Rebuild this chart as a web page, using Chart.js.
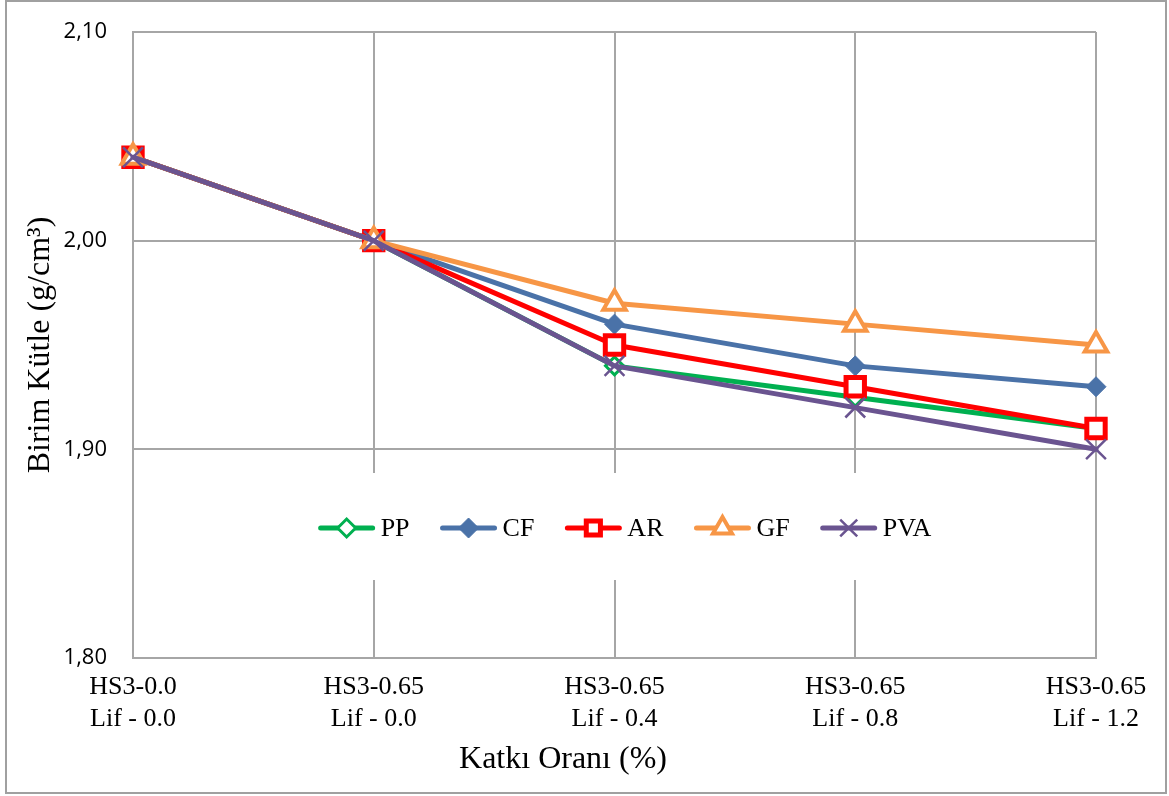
<!DOCTYPE html>
<html>
<head>
<meta charset="utf-8">
<script src="https://cdn.jsdelivr.net/npm/chart.js@4/dist/chart.umd.min.js"></script>
<style>
  html, body { margin: 0; padding: 0; background: #fff; }
  #wrap { width: 1169px; height: 796px; position: relative; }
</style>
</head>
<body>
<div id="wrap"><canvas id="chart" width="1169" height="796"></canvas></div>
<script>
// category labels (two lines each)
const categories = [
  ["HS3-0.0", "Lif - 0.0"],
  ["HS3-0.65", "Lif - 0.0"],
  ["HS3-0.65", "Lif - 0.4"],
  ["HS3-0.65", "Lif - 0.8"],
  ["HS3-0.65", "Lif - 1.2"],
];

// unit weight per fibre type (g/cm3)
const ppValues = [2.04, 2.00, 1.94, 1.925, 1.91];
const cfValues = [2.04, 2.00, 1.96, 1.94, 1.93];
const arValues = [2.04, 2.00, 1.95, 1.93, 1.91];
const gfValues = [2.04, 2.00, 1.97, 1.96, 1.95];
const pvaValues = [2.04, 2.00, 1.94, 1.92, 1.90];

const seriesNames = ["PP", "CF", "AR", "GF", "PVA"];

const yMin = 1.8;
const yMax = 2.1;
const yStep = 0.1;

const xTitle = "Katkı Oranı (%)";

const serif = "'Liberation Serif', 'Times New Roman', serif";
const gridColor = "#A6A6A6";

const styles = {
  PP: { color: "#00B050", pointStyle: "rectRot", radius: 9, bw: 3, fill: "#fff" },
  CF: { color: "#4A72A8", pointStyle: "rectRot", radius: 10, bw: 1, fill: "#4A72A8" },
  AR: { color: "#FF0000", pointStyle: "rect", radius: 13, bw: 5, fill: "#fff" },
  GF: { color: "#F79646", pointStyle: "triangle", radius: 13, bw: 4, fill: "#fff" },
  PVA: { color: "#6A5490", pointStyle: "crossRot", radius: 14, bw: 2.5, fill: "#6A5490" },
};

const makeSet = (name, data, order) => {
  const s = styles[name];
  return {
    label: name,
    data: data,
    order: order,
    borderColor: s.color,
    backgroundColor: s.fill,
    borderWidth: 5,
    borderCapStyle: "round",
    borderJoinStyle: "round",
    tension: 0,
    pointStyle: s.pointStyle,
    pointRadius: s.radius,
    pointHoverRadius: s.radius,
    pointBorderWidth: s.bw,
    pointBorderColor: s.color,
    pointBackgroundColor: s.fill,
  };
};

// legend sitting inside the plot, on a white box over the grid,
// plus the x title and the outer frame
const extras = {
  id: "extras",
  beforeDatasetsDraw(chart) {
    const ctx = chart.ctx;
    const lineLen = 52, textGap = 8, itemGap = 33;
    const cx = 626, cy = 528;
    ctx.save();
    ctx.font = "26px " + serif;
    const widths = seriesNames.map((n) => ctx.measureText(n).width);
    let total = itemGap * (seriesNames.length - 1);
    widths.forEach((w) => (total += lineLen + textGap + w));

    ctx.fillStyle = "#fff";
    ctx.fillRect(300, 473, 655, 107);

    let x = cx - total / 2;
    seriesNames.forEach((name, i) => {
      const s = styles[name];
      ctx.strokeStyle = s.color;
      ctx.lineWidth = 5;
      ctx.lineCap = "round";
      ctx.beginPath();
      ctx.moveTo(x, cy);
      ctx.lineTo(x + lineLen, cy);
      ctx.stroke();

      ctx.fillStyle = s.fill;
      ctx.lineWidth = s.bw;
      ctx.lineCap = "butt";
      const r = name === "AR" ? 10 : name === "GF" ? 11 : name === "PVA" ? 12 : s.radius;
      Chart.helpers.drawPoint(ctx, { pointStyle: s.pointStyle, radius: r, rotation: 0, borderWidth: s.bw }, x + lineLen / 2, cy);

      ctx.fillStyle = "#000";
      ctx.textAlign = "left";
      ctx.textBaseline = "middle";
      ctx.fillText(name, x + lineLen + textGap, cy + 1);
      x += lineLen + textGap + widths[i] + itemGap;
    });
    ctx.restore();
  },
  afterDraw(chart) {
    const ctx = chart.ctx;
    ctx.save();
    ctx.fillStyle = "#000";
    ctx.font = "32px " + serif;
    ctx.textAlign = "center";
    ctx.textBaseline = "alphabetic";
    ctx.fillText(xTitle, 563, 768);

    ctx.strokeStyle = "#A0A0A0";
    ctx.lineWidth = 2;
    ctx.strokeRect(6, 1, 1160, 792);
    ctx.restore();
  },
};

new Chart(document.getElementById("chart"), {
  type: "line",
  data: {
    labels: categories,
    datasets: [
      makeSet("PP", ppValues, 4),
      makeSet("CF", cfValues, 3),
      makeSet("AR", arValues, 2),
      makeSet("GF", gfValues, 1),
      makeSet("PVA", pvaValues, 0),
    ],
  },
  options: {
    responsive: false,
    animation: false,
    layout: { autoPadding: false, padding: { top: 32, right: 73, bottom: 0, left: 0 } },
    plugins: {
      legend: { display: false },
      tooltip: { enabled: false },
    },
    scales: {
      x: {
        offset: false,
        grid: { offset: false, color: gridColor, lineWidth: 2, drawTicks: false },
        border: { color: gridColor, width: 2 },
        ticks: {
          color: "#000",
          padding: 13,
          maxRotation: 0,
          autoSkip: false,
          font: { family: serif, size: 26, lineHeight: 1.23 },
        },
        afterFit(scale) {
          scale.height = 138;
        },
      },
      y: {
        min: yMin,
        max: yMax,
        grid: { color: gridColor, lineWidth: 2, drawTicks: false },
        border: { color: gridColor, width: 2 },
        ticks: {
          stepSize: yStep,
          color: "#000",
          padding: 26,
          font: { family: "'Open Sans', 'Liberation Sans', sans-serif", size: 22 },
          callback: (v) => Number(v).toFixed(2).replace(".", ","),
        },
        title: {
          display: true,
          text: "Birim Kütle (g/cm³)",
          color: "#000",
          font: { family: serif, size: 32 },
          padding: { top: 21, bottom: 0 },
        },
        afterFit(scale) {
          scale.width = 133;
          // the tick padding is horizontal only here
          scale.paddingTop = 0;
          scale.paddingBottom = 0;
        },
      },
    },
  },
  plugins: [extras],
});
</script>
</body>
</html>
